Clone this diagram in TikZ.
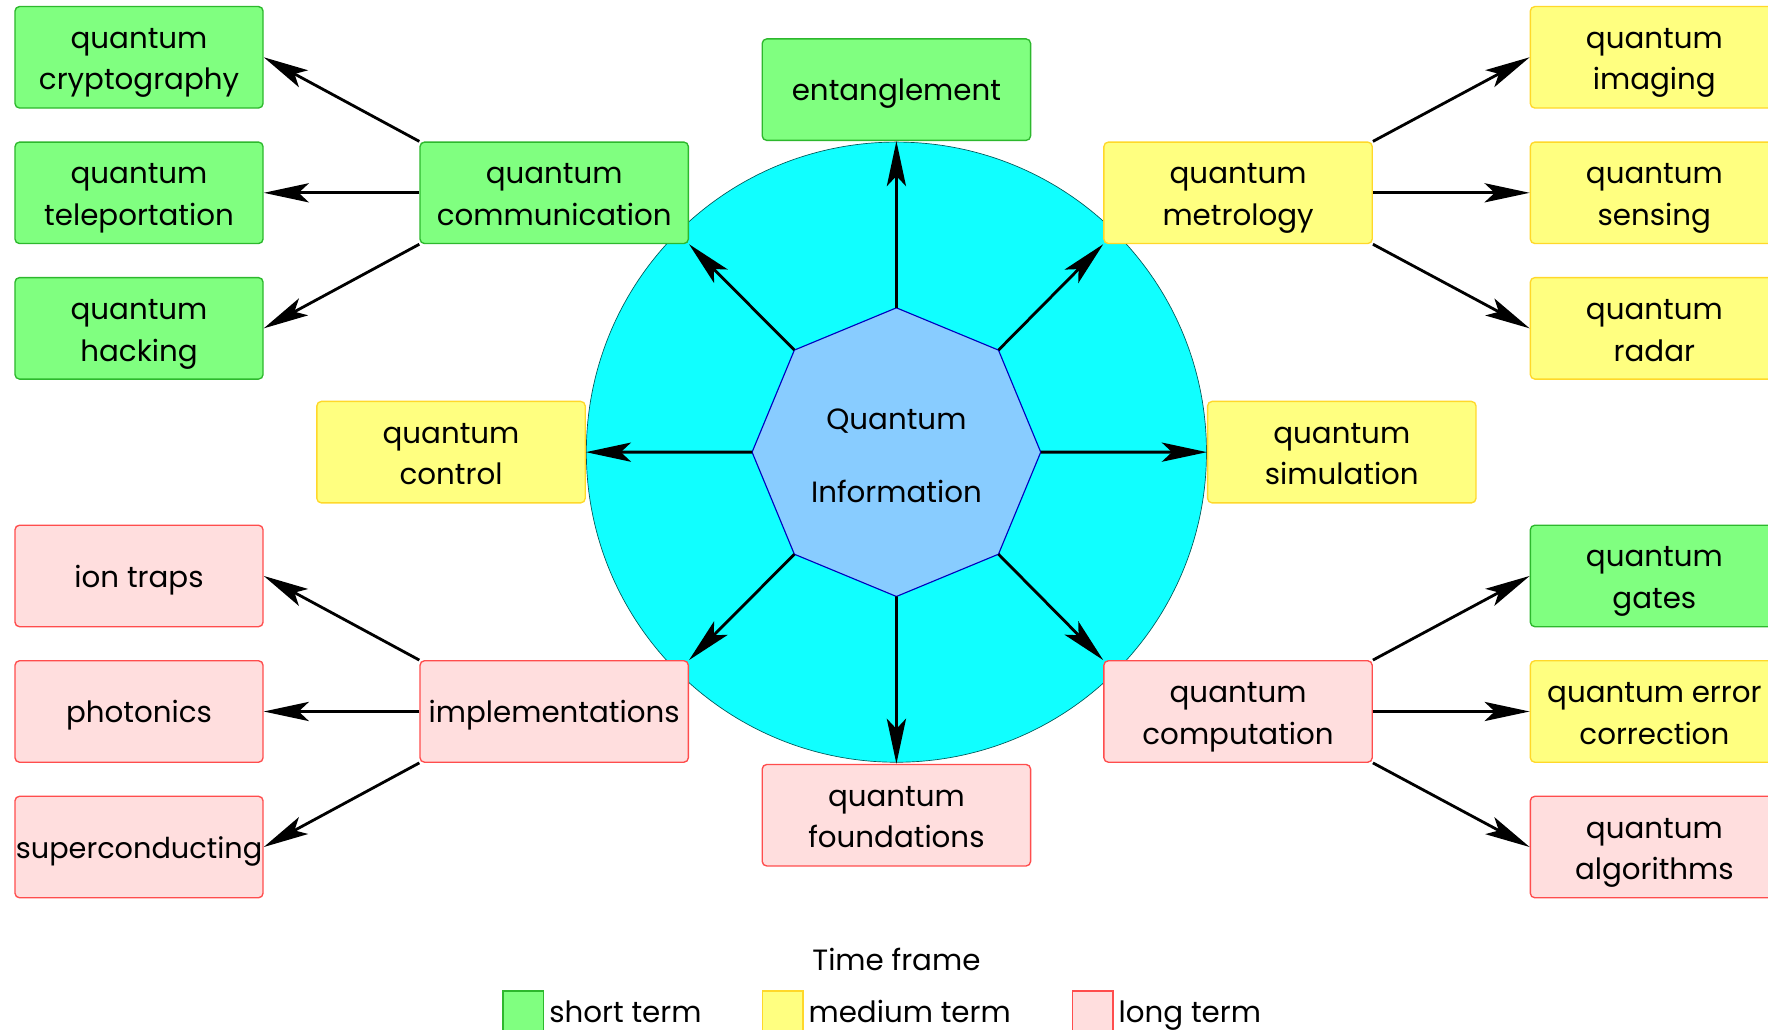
\documentclass[tikz,border=0pt]{standalone}
\usepackage{fontspec}
\setmainfont{Poppins}
\usepackage{tikz}
\usetikzlibrary{arrows.meta, positioning, shapes.geometric}

\definecolor{shortfill}{HTML}{80FF80}
\definecolor{shortline}{HTML}{2DB82D}
\definecolor{midfill}{HTML}{FFFF80}
\definecolor{midline}{HTML}{FFD82A}
\definecolor{longfill}{HTML}{FFDEDE}
\definecolor{longline}{HTML}{FF4D4D}
\definecolor{discfill}{HTML}{10FFFF}
\definecolor{octfill}{HTML}{88CCFF}

\begin{document}
\begin{tikzpicture}[x=1pt,y=1pt,>={Stealth[length=40pt,width=17pt,inset=9pt]}]
  \tikzstyle{every node}=[font=\fontsize{26}{37}\selectfont]
  \tikzstyle{topic}=[draw, rounded corners=4pt, line width=1.2pt, align=center,
    minimum width=238pt, minimum height=90pt, inner sep=0pt,
    text height=66pt, text depth=8pt]
  \tikzstyle{single}=[text height=28pt, text depth=8pt]
  \tikzstyle{leaf}=[topic, minimum width=220pt]
  \tikzstyle{short}=[fill=shortfill, draw=shortline]
  \tikzstyle{medium}=[fill=midfill, draw=midline]
  \tikzstyle{long}=[fill=longfill, draw=longline]
  \tikzstyle{swatch}=[draw, line width=1.2pt, minimum size=36pt, inner sep=0pt]
  \tikzstyle{arr}=[->, line width=2.5pt]

  \useasboundingbox (0,0) rectangle (1568,-913);

  % the disc and the centre
  \node[circle, draw=teal!70!black, line width=0.6pt, fill=discfill,
    minimum size=550pt, inner sep=0pt] (disc) at (795,-401) {};
  \node[regular polygon, regular polygon sides=8, shape border rotate=22.5,
    draw=blue!75!black, line width=1pt, fill=octfill, minimum size=256pt,
    inner sep=0pt, outer sep=0pt, align=center, text height=97pt, text depth=8pt,
    font=\fontsize{26}{65}\selectfont] (qi) at (795,-401) {Quantum\\Information};

  % main topics
  \node[topic, short, single] (ent) at (795,-79.5) {entanglement};
  \node[topic, short]  (comm)  at (491.5,-171)  {quantum\\communication};
  \node[topic, medium] (metro) at (1098,-171)   {quantum\\metrology};
  \node[topic, medium] (ctrl)  at (400,-401)    {quantum\\control};
  \node[topic, medium] (sim)   at (1190,-401)   {quantum\\simulation};
  \node[topic, long, single] (impl) at (491.5,-631) {implementations};
  \node[topic, long]   (comp)  at (1098,-631)   {quantum\\computation};
  \node[topic, long]   (found) at (795,-723)    {quantum\\foundations};

  % left branches
  \node[leaf, short] (tele)  [left=138pt of comm]  {quantum\\teleportation};
  \node[leaf, short] (crypt) [above=29pt of tele]  {quantum\\cryptography};
  \node[leaf, short] (hack)  [below=29pt of tele]  {quantum\\hacking};
  \node[leaf, long, single] (photo) [left=138pt of impl]  {photonics};
  \node[leaf, long, single] (ions)  [above=29pt of photo] {ion traps};
  \node[leaf, long, single, font=\fontsize{25.5}{37}\selectfont]
    (super) [below=29pt of photo] {superconducting};

  % right branches
  \node[leaf, medium] (sens)  [right=139pt of metro] {quantum\\sensing};
  \node[leaf, medium] (imag)  [above=29pt of sens]   {quantum\\imaging};
  \node[leaf, medium] (radar) [below=29pt of sens]   {quantum\\radar};
  \node[leaf, medium] (qec)   [right=139pt of comp]  {quantum error\\correction};
  \node[leaf, short]  (gates) [above=29pt of qec]    {quantum\\gates};
  \node[leaf, long]   (algo)  [below=29pt of qec]    {quantum\\algorithms};

  \path[arr]
  (qi.90)   edge (ent.south)
  (qi.45)   edge (metro.south west)
  (qi.0)    edge (sim.west)
  (qi.-45)  edge (comp.north west)
  (qi.-90)  edge (found.north)
  (qi.-135) edge (impl.north east)
  (qi.180)  edge (ctrl.east)
  (qi.135)  edge (comm.south east)
  ;

  \path[arr]
  (comm.north west)  edge (crypt.east)
  (comm.west)        edge (tele.east)
  (comm.south west)  edge (hack.east)
  (impl.north west)  edge (ions.east)
  (impl.west)        edge (photo.east)
  (impl.south west)  edge (super.east)
  (metro.north east) edge (imag.west)
  (metro.east)       edge (sens.west)
  (metro.south east) edge (radar.west)
  (comp.north east)  edge (gates.west)
  (comp.east)        edge (qec.west)
  (comp.south east)  edge (algo.west)
  ;

  % legend
  \node[single] (frame) at (795,-851) {Time frame};
  \node[swatch, short]  (sw1) at (464,-897) {};
  \node[single, anchor=west] (lg1) [right=1pt of sw1] {short term};
  \node[swatch, medium] (sw2) at (694,-897) {};
  \node[single, anchor=west] (lg2) [right=1pt of sw2] {medium term};
  \node[swatch, long]   (sw3) at (969,-897) {};
  \node[single, anchor=west] (lg3) [right=1pt of sw3] {long term};
\end{tikzpicture}
\end{document}
